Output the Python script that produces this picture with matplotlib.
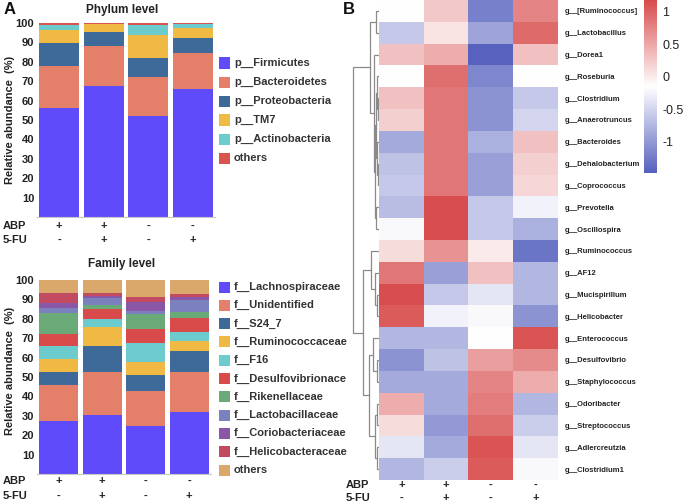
import numpy as np
import matplotlib
matplotlib.use("Agg")
import matplotlib.pyplot as plt
from matplotlib.patches import Rectangle
from matplotlib.colors import LinearSegmentedColormap, Normalize
from matplotlib.cm import ScalarMappable

plt.rcParams['font.family'] = ['Liberation Sans', 'DejaVu Sans']

# ---------------- data ----------------
groups = ["1", "2", "3", "4"]
abp_signs = ["+", "+", "-", "-"]
fu_signs = ["-", "+", "-", "+"]

phylum_names = ["p__Firmicutes", "p__Bacteroidetes", "p__Proteobacteria",
                "p__TM7", "p__Actinobacteria", "others"]
phylum_colors = ["#5f4bfa", "#e47f6a", "#3e6a99", "#f0b944", "#6ccbcd", "#d9534f"]
phy_firmicutes = [56.0, 67.5, 52.0, 66.2]
phy_bacteroidetes = [22.0, 20.5, 20.3, 18.3]
phy_proteobacteria = [11.5, 7.3, 9.9, 7.8]
phy_tm7 = [6.8, 4.0, 11.6, 5.0]
phy_actinobacteria = [2.5, 0.4, 5.0, 2.0]
phy_others = [1.2, 0.3, 1.2, 0.7]

family_names = ["f__Lachnospiraceae", "f__Unidentified", "f__S24_7",
                "f__Ruminococcaceae", "f__F16", "f__Desulfovibrionace",
                "f__Rikenellaceae", "f__Lactobacillaceae", "f__Coriobacteriaceae",
                "f__Helicobacteraceae", "others"]
family_colors = ["#5f4bfa", "#e47f6a", "#3e6a99", "#f0b944", "#6ccbcd", "#d94b4b",
                 "#6aaa78", "#7b80bf", "#8a57a6", "#c24b62", "#dba86c"]
fam_lachno = [27.4, 30.5, 25.0, 31.9]
fam_unident = [18.6, 22.0, 17.9, 20.6]
fam_s24_7 = [6.8, 13.5, 8.1, 11.0]
fam_rumino = [6.4, 9.7, 6.8, 5.1]
fam_f16 = [6.8, 4.3, 9.8, 4.8]
fam_desulfo = [6.2, 5.0, 7.4, 7.2]
fam_rikenell = [11.0, 2.0, 7.5, 3.1]
fam_lactobac = [2.2, 3.5, 1.5, 6.0]
fam_corio = [2.6, 1.0, 4.9, 1.7]
fam_helico = [5.1, 1.8, 2.5, 1.4]
fam_others = [6.9, 6.7, 8.6, 7.2]

genus_names = ["g__[Ruminococcus]", "g__Lactobacillus", "g__Dorea1", "g__Roseburia",
               "g__Clostridium", "g__Anaerotruncus", "g__Bacteroides",
               "g__Dehalobacterium", "g__Coprococcus", "g__Prevotella",
               "g__Oscillospira", "g__Ruminococcus", "g__AF12", "g__Mucispirillum",
               "g__Helicobacter", "g__Enterococcus", "g__Desulfovibrio",
               "g__Staphylococcus", "g__Odoribacter", "g__Streptococcus",
               "g__Adlercreutzia", "g__Clostridium1"]
heat_abp_only = [-0.15, -0.6, 0.3, -0.15, 0.3, 0.2, -0.85, -0.65, -0.6, -0.7, -0.2,
                 0.1, 0.85, 1.15, 1.05, -0.75, -1.05, -0.85, 0.45, 0.1, -0.35, -0.75]
heat_abp_fu = [0.25, 0.05, 0.45, 0.9, 0.85, 0.85, 0.85, 0.85, 0.85, 1.15, 1.15,
               0.65, -0.95, -0.6, -0.25, -0.75, -0.65, -0.85, -0.85, -1.0, -0.85, -0.55]
heat_control = [-1.2, -0.9, -1.45, -1.15, -1.05, -1.05, -0.8, -0.95, -0.95, -0.6, -0.6,
                0.0, 0.3, -0.35, -0.2, -0.15, 0.55, 0.75, 0.8, 0.9, 1.1, 1.05]
heat_fu_only = [0.75, 0.95, 0.3, -0.15, -0.6, -0.5, 0.3, 0.2, 0.15, -0.25, -0.8,
                -1.3, -0.75, -0.75, -1.05, 1.1, 0.7, 0.45, -0.75, -0.55, -0.35, -0.2]
heat_vmin, heat_vmax = -1.48, 1.18
cbar_ticks = [-1, -0.5, 0, 0.5, 1]

# row dendrogram (left id, right id, height); ids >= 22 refer to earlier merges
row_merges = [
    (0, 1, 3), (4, 5, 1), (3, 23, 2), (7, 8, 1), (6, 25, 2), (24, 26, 3),
    (9, 10, 3), (27, 28, 4), (2, 29, 5), (22, 30, 9),
    (13, 14, 2), (12, 32, 4), (11, 33, 8), (16, 17, 2), (15, 35, 6),
    (18, 19, 2), (20, 21, 2), (37, 38, 4), (36, 39, 10), (34, 40, 16),
    (31, 41, 26),
]

# ---------------- figure ----------------
W, H = 684, 503
fig = plt.figure(figsize=(W / 100, H / 100), dpi=100)
TXT = "#222222"


def ax_px(x0, y0, x1, y1):
    return fig.add_axes([x0 / W, 1 - y1 / H, (x1 - x0) / W, (y1 - y0) / H])


def ftext(x, y, s, **kw):
    kw.setdefault("color", TXT)
    return fig.text(x / W, 1 - y / H, s, **kw)


def stacked(ax, series, colors):
    x = np.arange(len(groups))
    bottom = np.zeros(len(groups))
    for vals, c in zip(series, colors):
        ax.bar(x, vals, bottom=bottom, width=0.9, color=c, edgecolor="none")
        bottom += np.array(vals)
    ax.set_xlim(-0.5, len(groups) - 0.5)
    ax.set_ylim(0, 100)
    ax.set_yticks(range(10, 101, 10))
    ax.set_xticks([])
    for lab in ax.get_yticklabels():
        lab.set_fontweight("bold")
    ax.tick_params(axis="y", length=0, pad=2, labelsize=8, labelcolor=TXT)
    for s in ["top", "right", "left"]:
        ax.spines[s].set_visible(False)
    ax.spines["bottom"].set_color("#c8c8c8")
    ax.spines["bottom"].set_linewidth(0.8)


def legend(x, y0, dy, names, colors):
    for i, (n, c) in enumerate(zip(names, colors)):
        yc = y0 + i * dy
        fig.add_artist(Rectangle((x / W, 1 - (yc + 5.5) / H), 11 / W, 11 / H,
                                 transform=fig.transFigure, color=c, lw=0))
        ftext(x + 15, yc, n, fontsize=8, fontweight="bold", va="center", ha="left",
              color="#333333")


def sign_rows(centers, y_abp, y_fu, xlab):
    ftext(xlab, y_abp, "ABP", fontsize=8, fontweight="bold", va="center", ha="left")
    ftext(xlab, y_fu, "5-FU", fontsize=8, fontweight="bold", va="center", ha="left")
    for cx, a, f in zip(centers, abp_signs, fu_signs):
        ftext(cx, y_abp, a, fontsize=8, fontweight="bold", va="center", ha="center")
        ftext(cx, y_fu, f, fontsize=8, fontweight="bold", va="center", ha="center")


# ---- Panel A: phylum ----
axp = ax_px(37, 23, 215, 217)
stacked(axp, [phy_firmicutes, phy_bacteroidetes, phy_proteobacteria, phy_tm7,
              phy_actinobacteria, phy_others], phylum_colors)
ftext(122, 10, "Phylum level", fontsize=8.5, fontweight="bold", ha="center", va="center")
ftext(10, 120, "Relative abundance  (%)", fontsize=8, fontweight="bold",
      rotation=90, ha="center", va="center")
legend(219, 63, 19, phylum_names, phylum_colors)
pc = [37 + 178 / 4 * (i + 0.5) for i in range(4)]
sign_rows(pc, 226, 240, 3)

# ---- Panel A: family ----
axf = ax_px(37, 280, 211, 474)
stacked(axf, [fam_lachno, fam_unident, fam_s24_7, fam_rumino, fam_f16, fam_desulfo,
              fam_rikenell, fam_lactobac, fam_corio, fam_helico, fam_others],
        family_colors)
ftext(122, 264, "Family level", fontsize=8.5, fontweight="bold", ha="center", va="center")
ftext(10, 371, "Relative abundance  (%)", fontsize=8, fontweight="bold",
      rotation=90, ha="center", va="center")
legend(219, 287, 18.3, family_names, family_colors)
fc = [37 + 174 / 4 * (i + 0.5) for i in range(4)]
sign_rows(fc, 481, 496, 3)

ftext(4, 9, "A", fontsize=12, fontweight="bold", va="center", ha="left", color="#111111")
ftext(343, 9, "B", fontsize=12, fontweight="bold", va="center", ha="left", color="#111111")

# ---- Panel B: heatmap ----
cmap = LinearSegmentedColormap.from_list("bwr_ph", ["#5560bd", "#ffffff", "#d84b4b"])
norm = Normalize(vmin=heat_vmin, vmax=heat_vmax)
data = np.array([heat_abp_only, heat_abp_fu, heat_control, heat_fu_only]).T
n_rows = len(genus_names)
axh = ax_px(379, 0, 558, 480)
axh.imshow(data, cmap=cmap, norm=norm, aspect="auto", interpolation="nearest")
axh.set_xticks([])
axh.set_yticks(range(n_rows))
axh.set_yticklabels(genus_names)
axh.yaxis.tick_right()
axh.tick_params(axis="y", length=0, pad=5, labelsize=5.5, labelcolor=TXT)
for lab in axh.get_yticklabels():
    lab.set_fontweight("bold")
for s in axh.spines.values():
    s.set_visible(False)

hc = [379 + 179 / 4 * (i + 0.5) for i in range(4)]
sign_rows(hc, 485, 498, 346)

# dendrogram
axd = ax_px(345, 0, 379, 480)
axd.set_xlim(34, 0)
axd.set_ylim(n_rows - 0.5, -0.5)
axd.axis("off")
pos = {i: (float(i), 0.0) for i in range(n_rows)}
for k, (a, b, h) in enumerate(row_merges):
    ya, ha_ = pos[a]
    yb, hb = pos[b]
    axd.plot([ha_, h, h, hb], [ya, ya, yb, yb], color="#8a8a8a", lw=0.9,
             solid_joinstyle="miter")
    pos[n_rows + k] = ((ya + yb) / 2, h)

# colorbar
axc = ax_px(644, 0, 657, 173)
cb = fig.colorbar(ScalarMappable(norm=norm, cmap=cmap), cax=axc, ticks=cbar_ticks)
cb.outline.set_visible(False)
cb.ax.set_yticklabels(["-1", "-0.5", "0", "0.5", "1"])
cb.ax.tick_params(length=0, pad=4, labelsize=9, labelcolor=TXT)

fig.savefig("out.png", dpi=100)
